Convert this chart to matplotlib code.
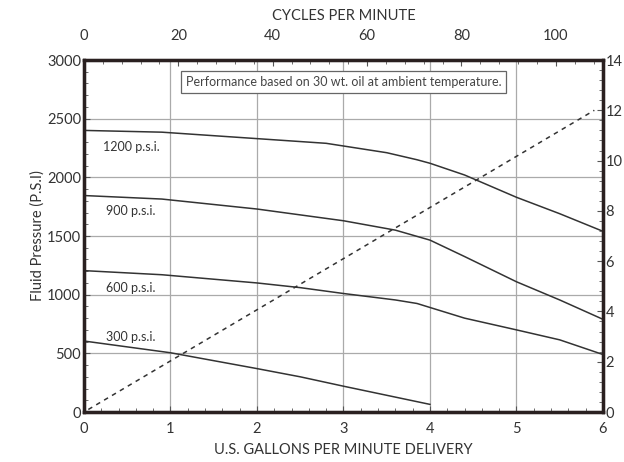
import matplotlib
matplotlib.use('Agg')
import matplotlib.pyplot as plt
from matplotlib.ticker import MultipleLocator

plt.rcParams['font.family'] = ['Lato', 'DejaVu Sans']

# Curvas de presion (GPM vs PSI)
gpm_1200 = [0, 0.9, 2.0, 2.8, 3.5, 3.85, 4.0, 4.4, 5.0, 5.5, 6.0]
psi_1200 = [2400, 2385, 2330, 2290, 2210, 2150, 2120, 2020, 1830, 1690, 1540]

gpm_900 = [0, 0.9, 2.0, 2.5, 3.0, 3.6, 4.0, 4.4, 5.0, 5.5, 6.0]
psi_900 = [1845, 1815, 1730, 1680, 1630, 1550, 1465, 1325, 1110, 955, 790]

gpm_600 = [0, 0.9, 2.0, 2.5, 3.0, 3.6, 3.85, 4.4, 5.0, 5.5, 6.0]
psi_600 = [1205, 1170, 1100, 1060, 1010, 955, 925, 800, 700, 615, 490]

gpm_300 = [0, 1.0, 2.0, 2.5, 3.0, 4.0]
psi_300 = [605, 505, 370, 300, 220, 65]

# Linea discontinua (eje derecho)
gpm_ciclos = [0.05, 5.9]
val_ciclos = [0.1, 12.0]

etiquetas = ['1200 p.s.i.', '900 p.s.i.', '600 p.s.i.', '300 p.s.i.']
pos_etiquetas = [(0.22, 2260), (0.25, 1710), (0.25, 1060), (0.25, 640)]

nota = 'Performance based on 30 wt. oil at ambient temperature.'

color_linea = '#333333'
color_eje = '#2a2020'
color_grid = '#aaaaaa'

fig = plt.figure(figsize=(6.24, 4.62), dpi=100)
ax = fig.add_axes([0.1346, 0.1082, 0.8317, 0.7619])

ax.set_xlim(0, 6)
ax.set_ylim(0, 3000)
ax.xaxis.set_major_locator(MultipleLocator(1))
ax.xaxis.set_minor_locator(MultipleLocator(0.2))
ax.yaxis.set_major_locator(MultipleLocator(500))
ax.yaxis.set_minor_locator(MultipleLocator(100))
ax.grid(True, which='major', color=color_grid, linewidth=0.9)
ax.set_axisbelow(True)

for g, p in [(gpm_1200, psi_1200), (gpm_900, psi_900), (gpm_600, psi_600), (gpm_300, psi_300)]:
    ax.plot(g, p, color=color_linea, linewidth=1.1, zorder=3)

for txt, (x, y) in zip(etiquetas, pos_etiquetas):
    ax.text(x, y, txt, fontsize=9, color='#333333', va='center', ha='left')

ax.text(3.0, 2810, nota, fontsize=9, color='#444444', ha='center', va='center',
        bbox=dict(boxstyle='square,pad=0.4', facecolor='white', edgecolor='#666666', linewidth=0.9),
        zorder=4)

ax.set_xlabel('U.S. GALLONS PER MINUTE DELIVERY', fontsize=10.5, color='#333333', labelpad=5)
ax.set_ylabel('Fluid Pressure (P.S.I)', fontsize=10.5, color='#333333', labelpad=2)

ax.tick_params(which='both', direction='in', color='#555555', labelsize=10.5, labelcolor='#333333')
ax.tick_params(axis='x', pad=7)
ax.tick_params(axis='y', pad=2)
ax.tick_params(which='major', length=4)
ax.tick_params(which='minor', length=3)

# Eje superior: ciclos por minuto
ax_top = ax.twiny()
ax_top.set_xlim(0, 110)
ax_top.xaxis.set_major_locator(MultipleLocator(20))
ax_top.xaxis.set_minor_locator(MultipleLocator(4))
ax_top.set_xlabel('CYCLES PER MINUTE', fontsize=10.5, color='#333333', labelpad=7)
ax_top.tick_params(which='both', direction='in', color='#555555', labelsize=10.5, labelcolor='#333333', pad=12)
ax_top.tick_params(which='major', length=4)
ax_top.tick_params(which='minor', length=3)

# Eje derecho
ax_r = ax.twinx()
ax_r.set_ylim(0, 14)
ax_r.yaxis.set_major_locator(MultipleLocator(2))
ax_r.yaxis.set_minor_locator(MultipleLocator(0.4))
ax_r.tick_params(which='both', direction='in', color='#555555', labelsize=10.5, labelcolor='#333333', pad=2)
ax_r.tick_params(which='major', length=4)
ax_r.tick_params(which='minor', length=3)
ax_r.plot(gpm_ciclos, val_ciclos, color=color_linea, linewidth=1.1, linestyle=(0, (3, 3)))

for a in (ax, ax_top, ax_r):
    for s in a.spines.values():
        s.set_linewidth(2.3)
        s.set_color(color_eje)

fig.savefig('out.png', dpi=100)
